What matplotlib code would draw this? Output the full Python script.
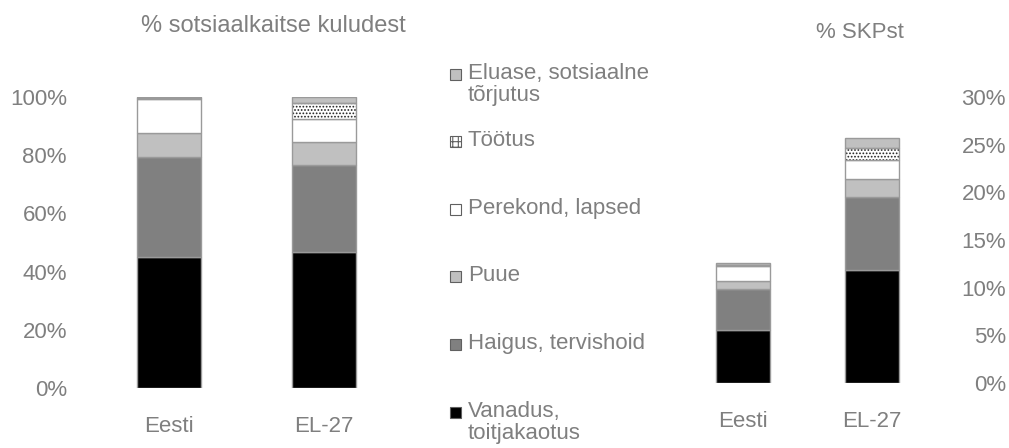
import matplotlib.pyplot as plt
from matplotlib.patches import Rectangle
from matplotlib.ticker import PercentFormatter

plt.rcParams['font.family'] = ['Liberation Sans', 'DejaVu Sans']
plt.rcParams['hatch.linewidth'] = 0.8

GREY_TEXT = "#7f7f7f"
EDGE = "#9a9a9a"
FS = 16

# data
categories = ["Eesti", "EL-27"]
series = ["Vanadus,\ntoitjakaotus", "Haigus, tervishoid", "Puue",
          "Perekond, lapsed", "Töötus", "Eluase, sotsiaalne\ntõrjutus"]

# share of social protection expenditure, % (Eesti, EL-27)
share_vanadus  = [45.1, 46.7]
share_haigus   = [34.2, 29.9]
share_puue     = [8.5, 7.9]
share_perekond = [11.5, 7.9]
share_tootus   = [0.3, 5.4]
share_eluase   = [0.4, 2.2]

# % of GDP (Eesti, EL-27)
gdp_vanadus  = [5.6, 11.9]
gdp_haigus   = [4.3, 7.6]
gdp_puue     = [0.8, 1.9]
gdp_perekond = [1.6, 2.0]
gdp_tootus   = [0.1, 1.3]
gdp_eluase   = [0.15, 1.0]

fills   = ["black", "#808080", "#c0c0c0", "white", "white", "#c0c0c0"]
hatches = [None, None, None, None, ".....", None]


def stacked(ax, columns, width):
    x = range(len(categories))
    bottom = [0.0] * len(categories)
    for vals, fc, h in zip(columns, fills, hatches):
        vals = [v / 100 for v in vals]
        if h:
            ax.bar(x, vals, width, bottom=bottom, color="white", hatch=h,
                   edgecolor="#202020", linewidth=0, zorder=2)
            ax.bar(x, vals, width, bottom=bottom, fill=False,
                   edgecolor=EDGE, linewidth=1, zorder=3)
        else:
            ax.bar(x, vals, width, bottom=bottom, color=fc,
                   edgecolor=EDGE, linewidth=1, zorder=2)
        bottom = [b + v for b, v in zip(bottom, vals)]

    ax.set_xticks(list(x))
    ax.set_xticklabels(categories)
    ax.set_xlim(-0.6, 1.6)
    for s in ax.spines.values():
        s.set_visible(False)
    ax.yaxis.set_major_formatter(PercentFormatter(1.0, decimals=0))
    ax.tick_params(length=0, labelsize=FS, labelcolor=GREY_TEXT)
    ax.tick_params(axis="x", pad=20)


fig = plt.figure(figsize=(10.09, 4.48), dpi=100)

ax1 = fig.add_axes([76 / 1009, 60 / 448, 341 / 1009, 291 / 448])
stacked(ax1, [share_vanadus, share_haigus, share_puue,
              share_perekond, share_tootus, share_eluase], 0.41)
ax1.set_ylim(0, 1.0)
ax1.set_yticks([0, 0.2, 0.4, 0.6, 0.8, 1.0])
ax1.tick_params(axis="y", pad=6.5)

ax2 = fig.add_axes([666 / 1009, 65 / 448, 283 / 1009, 286 / 448])
stacked(ax2, [gdp_vanadus, gdp_haigus, gdp_puue,
              gdp_perekond, gdp_tootus, gdp_eluase], 0.42)
ax2.set_ylim(0, 0.30)
ax2.set_yticks([0, 0.05, 0.10, 0.15, 0.20, 0.25, 0.30])
ax2.yaxis.tick_right()
ax2.tick_params(axis="y", pad=41)
for lab in ax2.get_yticklabels():
    lab.set_horizontalalignment("right")

fig.text(273 / 1009, 1 - 26 / 448, "% sotsiaalkaitse kuludest", ha="center",
         va="center", fontsize=17, color=GREY_TEXT)
fig.text(860 / 1009, 1 - 33 / 448, "% SKPst", ha="center",
         va="center", fontsize=FS, color=GREY_TEXT)

# legend, drawn by hand (top entry first)
legend_y = [75, 142, 210, 277, 345, 413]
for name, fc, h, y in zip(series[::-1], fills[::-1], hatches[::-1], legend_y):
    fig.add_artist(Rectangle((450 / 1009, 1 - (y + 5) / 448), 11 / 1009, 11 / 448,
                             transform=fig.transFigure, facecolor=fc,
                             hatch="+++" if h else None, edgecolor="#606060",
                             linewidth=0.8))
    fig.text(468 / 1009, 1 - (y - 12) / 448, name, ha="left", va="top",
             fontsize=FS, color=GREY_TEXT, linespacing=1.05)

fig.savefig("out.png", dpi=100)
